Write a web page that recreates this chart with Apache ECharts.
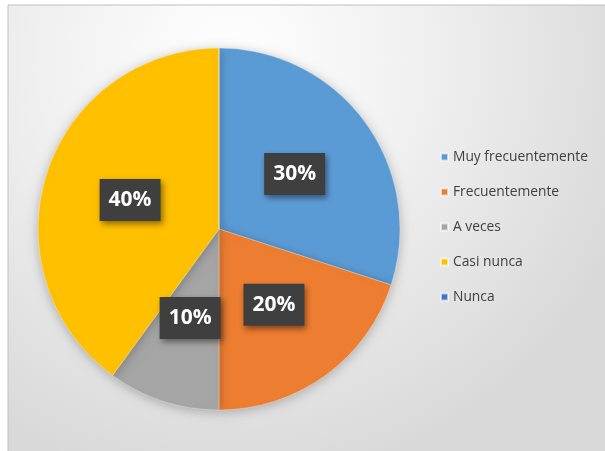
<!DOCTYPE html>
<html>
<head>
<meta charset="utf-8">
<script src="https://cdn.jsdelivr.net/npm/echarts@6/dist/echarts.min.js"></script>
<style>
  html, body { margin: 0; padding: 0; background: #ffffff; }
  #chart { width: 605px; height: 451px; }
</style>
</head>
<body>
<div id="chart"></div>
<script>
// Survey answer categories and their shares (%)
const categories = ['Muy frecuentemente', 'Frecuentemente', 'A veces', 'Casi nunca', 'Nunca'];
const values = [30, 20, 10, 40, 0];
const colors = ['#5B9BD5', '#ED7D31', '#A5A5A5', '#FFC000', '#4472C4'];

const chart = echarts.init(document.getElementById('chart'), null, { renderer: 'canvas' });

const pieData = categories.map((name, i) => ({
  name: name,
  value: values[i],
  label: { show: values[i] > 0 }
}));

chart.setOption({
  animation: false,
  color: colors,
  graphic: [
    {
      type: 'rect',
      z: -10,
      shape: { x: 8, y: 5, width: 600, height: 450 },
      style: {
        fill: {
          type: 'radial', x: 0.37, y: 0.12, r: 0.95,
          colorStops: [
            { offset: 0, color: '#ffffff' },
            { offset: 0.45, color: '#f0f0f0' },
            { offset: 1, color: '#d9d9d9' }
          ]
        },
        stroke: '#bfbfbf',
        lineWidth: 1
      }
    }
  ],
  legend: {
    orient: 'vertical',
    left: 440,
    top: 150,
    padding: 0,
    itemWidth: 7,
    itemHeight: 7,
    itemGap: 21,
    icon: 'rect',
    textStyle: {
      fontFamily: 'Open Sans',
      fontSize: 13.8,
      lineHeight: 14,
      color: '#404040'
    },
    data: categories
  },
  series: [
    {
      type: 'pie',
      center: [219, 229],
      radius: [0, 181],
      startAngle: 90,
      clockwise: true,
      avoidLabelOverlap: false,
      itemStyle: {
        borderColor: 'rgba(255,255,255,0.6)',
        borderWidth: 0.5,
        shadowColor: 'rgba(0,0,0,0.25)',
        shadowBlur: 12,
        shadowOffsetX: 0,
        shadowOffsetY: 2
      },
      label: {
        position: 'inner',
        formatter: p => p.value + '%',
        fontFamily: 'Open Sans',
        fontWeight: 'bold',
        fontSize: 21,
        lineHeight: 22,
        color: '#ffffff',
        backgroundColor: '#3f3f3f',
        padding: [10, 9, 10, 9],
        shadowColor: 'rgba(0,0,0,0.45)',
        shadowBlur: 6,
        shadowOffsetX: 2,
        shadowOffsetY: 3
      },
      labelLine: { show: false },
      emphasis: { disabled: true },
      data: pieData
    }
  ]
});
</script>
</body>
</html>
